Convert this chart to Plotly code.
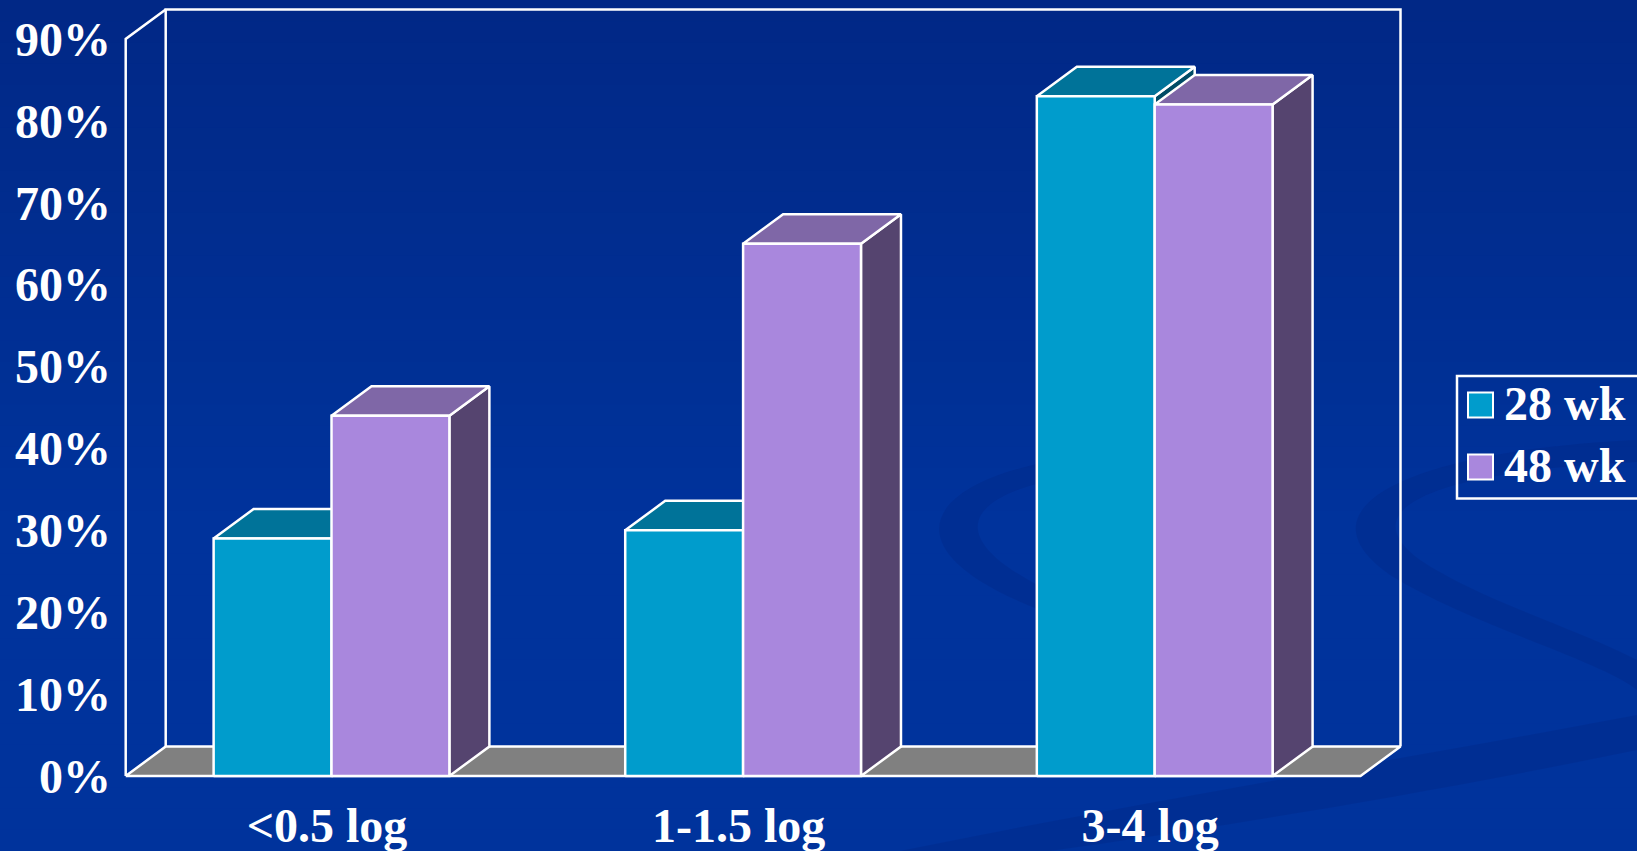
import plotly.graph_objects as go

# ---- data -------------------------------------------------------------
CATEGORIES = ["<0.5 log", "1-1.5 log", "3-4 log"]
SERIES = ["28 wk", "48 wk"]
WK28 = [29, 30, 83]
WK48 = [44, 65, 82]
Y_TICKS = [0, 10, 20, 30, 40, 50, 60, 70, 80, 90]
Y_TICK_TEXT = ["0%", "10%", "20%", "30%", "40%", "50%", "60%", "70%", "80%", "90%"]

# ---- styling ------------------------------------------------------------
FRONT = {"28 wk": "#009ccc", "48 wk": "#a987dd"}
TOP = {"28 wk": "#007399", "48 wk": "#7f67a7"}
SIDE = {"28 wk": "#004c66", "48 wk": "#55446f"}
FLOOR = "#808080"
EDGE = "white"
FONT = dict(family="Liberation Serif", size=48, color="white", weight="bold")

W, H = 1637, 851
PLOT_L, PLOT_R, PLOT_T, PLOT_B = 120, 1410, 5, 786   # plot area in pixels
X0_PX, UNIT_PX = 125.7, 411.6                        # pixel of x=-0.5, pixels per category
Y0_PX, PCT_PX = 776.0, 8.189                         # pixel of 0 %, pixels per percent

x_range = [-0.5 - (X0_PX - PLOT_L) / UNIT_PX, -0.5 + (PLOT_R - X0_PX) / UNIT_PX]
y_range = [-(PLOT_B - Y0_PX) / PCT_PX, (Y0_PX - PLOT_T) / PCT_PX]

DX = 40.0 / UNIT_PX        # depth offset, category units
DY = 29.5 / PCT_PX         # depth offset, percent units
BAR_W = 0.2864             # width of one bar in category units
LABEL_SHIFT = -4.5 / UNIT_PX   # category labels sit slightly left of the group centre
Y_MAX = Y_TICKS[-1]


def px_x(p):
    return (p - PLOT_L) / (PLOT_R - PLOT_L)


def px_y(p):
    return (PLOT_B - p) / (PLOT_B - PLOT_T)


fig = go.Figure()


def poly(xs, ys, fill, width=2.5):
    fig.add_trace(go.Scatter(
        x=list(xs) + [xs[0]], y=list(ys) + [ys[0]],
        mode="lines", fill="toself" if fill else None,
        fillcolor=fill, line=dict(color=EDGE, width=width),
        hoverinfo="skip", showlegend=False))


def lines(xs, ys, width=2.5):
    fig.add_trace(go.Scatter(
        x=xs, y=ys, mode="lines", line=dict(color=EDGE, width=width),
        hoverinfo="skip", showlegend=False))


# floor
x_lo, x_hi = -0.5, len(CATEGORIES) - 0.5
poly([x_lo, x_hi, x_hi + DX, x_lo + DX], [0, 0, DY, DY], FLOOR)
# back wall and left wall outlines
lines([x_lo + DX, x_lo + DX, x_hi + DX, x_hi + DX], [DY, Y_MAX + DY, Y_MAX + DY, DY])
lines([x_lo, x_lo, x_lo + DX], [0, Y_MAX, Y_MAX + DY])


def bar3d(left, right, h, name):
    # side face, top face, then front face
    poly([right, right + DX, right + DX, right], [0, DY, h + DY, h], SIDE[name])
    poly([left, right, right + DX, left + DX], [h, h, h + DY, h + DY], TOP[name])
    poly([left, right, right, left], [0, 0, h, h], FRONT[name])
    fig.add_trace(go.Scatter(
        x=[(left + right) / 2], y=[h / 2], mode="markers",
        marker=dict(size=1, opacity=0), name=name,
        hovertemplate=f"{name}: {h}%<extra></extra>", showlegend=False))


for i, cat in enumerate(CATEGORIES):
    for s, (name, vals) in enumerate(zip(SERIES, [WK28, WK48])):
        left = i - BAR_W + s * BAR_W
        bar3d(left, left + BAR_W, vals[i], name)

# ---- background: vertical gradient and soft swirl ribbons ---------------
shapes = []
top_rgb, bot_rgb = (1, 40, 134), (0, 51, 156)
n = 40
for k in range(n):
    t = k / (n - 1)
    c = tuple(round(a + (b - a) * min(1.0, t * 1.6)) for a, b in zip(top_rgb, bot_rgb))
    shapes.append(dict(
        type="rect", xref="paper", yref="paper", layer="below",
        x0=px_x(0), x1=px_x(W), y0=px_y(H * (k + 1) / n + 1), y1=px_y(H * k / n),
        fillcolor=f"rgb{c}", line=dict(width=0)))


def ribbon(cmds, color):
    parts = []
    for cmd, pts in cmds:
        parts.append(cmd + " ".join(f"{px_x(x):.5f},{px_y(y):.5f}" for x, y in pts))
    shapes.append(dict(type="path", xref="paper", yref="paper", layer="below",
                       path=" ".join(parts) + " Z", fillcolor=color,
                       line=dict(width=0)))


SWIRL = "rgba(0,30,110,0.18)"
ribbon([("M", [(1130, 452)]), ("C", [(940, 462), (860, 540), (1040, 610)]),
        ("L", [(1052, 592)]), ("C", [(930, 535), (960, 482), (1130, 470)])], SWIRL)
ribbon([("M", [(1637, 440)]), ("C", [(1420, 450), (1290, 505), (1390, 575)]),
        ("C", [(1470, 625), (1600, 660), (1637, 690)]), ("L", [(1637, 660)]),
        ("C", [(1580, 630), (1480, 600), (1420, 560)]),
        ("C", [(1345, 505), (1450, 470), (1637, 462)])], SWIRL)
ribbon([("M", [(900, 851)]), ("C", [(1150, 800), (1400, 760), (1637, 715)]),
        ("L", [(1637, 750)]), ("C", [(1420, 795), (1200, 830), (1050, 851)])], SWIRL)

# ---- legend --------------------------------------------------------------
shapes.append(dict(type="rect", xref="paper", yref="paper",
                   x0=px_x(1457), x1=px_x(1645), y0=px_y(498.5), y1=px_y(376),
                   line=dict(color=EDGE, width=2.5), fillcolor="rgba(0,0,0,0)"))
annotations = []
for name, y_mid in zip(SERIES, [405, 467]):
    shapes.append(dict(type="rect", xref="paper", yref="paper",
                       x0=px_x(1468), x1=px_x(1493), y0=px_y(y_mid + 12.5), y1=px_y(y_mid - 12.5),
                       line=dict(color=EDGE, width=2), fillcolor=FRONT[name]))
    annotations.append(dict(text=name, xref="paper", yref="paper",
                            x=px_x(1502), y=px_y(y_mid - 2), xanchor="left", yanchor="middle",
                            showarrow=False, font=FONT))

fig.update_layout(
    width=W, height=H,
    margin=dict(l=PLOT_L, r=W - PLOT_R, t=PLOT_T, b=H - PLOT_B, pad=0),
    paper_bgcolor="#0033a0", plot_bgcolor="rgba(0,0,0,0)",
    shapes=shapes, annotations=annotations, showlegend=False,
    xaxis=dict(range=x_range, tickvals=[i + LABEL_SHIFT for i in range(len(CATEGORIES))],
               ticktext=CATEGORIES,
               showgrid=False, zeroline=False, showline=False, ticks="",
               tickfont=FONT, ticklabelstandoff=7, automargin=False, fixedrange=True),
    yaxis=dict(range=y_range, tickvals=Y_TICKS, ticktext=Y_TICK_TEXT,
               showgrid=False, zeroline=False, showline=False, ticks="",
               tickfont=FONT, ticklabelstandoff=8, automargin=False, fixedrange=True),
)

fig.write_html("out.html")
